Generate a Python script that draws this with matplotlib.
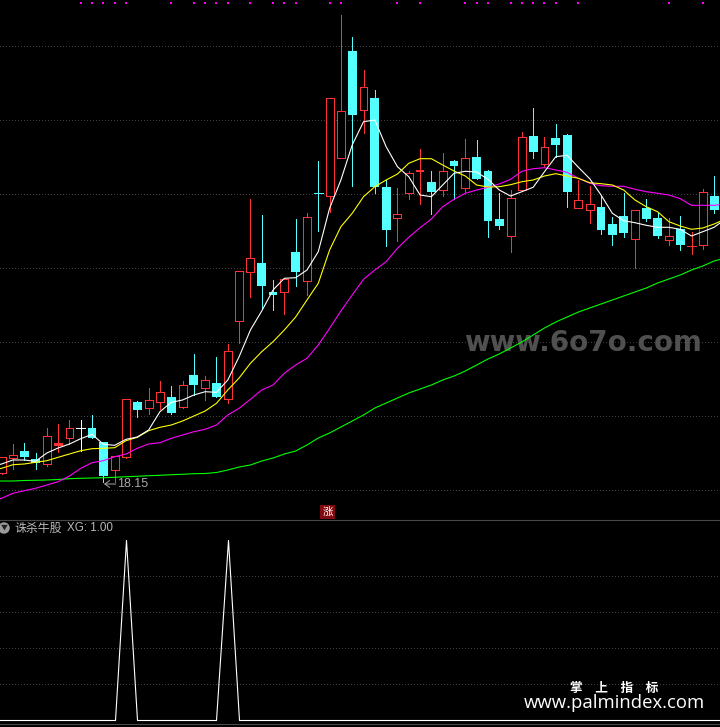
import numpy as np
from matplotlib import pyplot as plt

plt.rcParams['font.family'] = ['Noto Sans CJK SC', 'DejaVu Sans']

RED = '#ff3333'
CYAN = '#54ffff'

opens = [47.3, 62.3, 69, 61, 56.3, 74.3, 82.3, 91.7, 92, 78, 50.3, 62.7, 118, 111.7, 118.3, 123, 113, 145, 132.3, 137,
         121.3, 198.7, 248.3, 257, 228, 228.3, 268, 239.3, 326.7, 324.3, 362.3, 469, 410.3, 422, 333, 302.3, 327.3, 348, 338, 330.3,
         359, 332.3, 363, 349, 301, 284.3, 330.3, 384, 356.3, 382, 385, 312.3, 310.3, 313, 296, 304, 281.3, 312, 302, 280.3,
         291, 274, 275.3, 324]
closes = [62.7, 65.3, 63, 56.7, 83.7, 76.7, 91.7, 91.7, 82.3, 44, 63.7, 120.7, 110, 119.7, 127.7, 107, 134.7, 135, 139.7, 123,
          168.7, 248.7, 261.7, 234, 225, 240.7, 248, 302.7, 326.7, 421.7, 408.7, 405, 432.7, 333, 290, 305.7, 346.7, 350, 328, 348.7,
          354, 361.7, 341, 299, 294, 321.7, 382.7, 368, 372.7, 375, 328, 319.7, 315.7, 290, 285, 287, 309.7, 301, 284, 283.7,
          275, 274, 327.7, 310]
highs = [63, 76, 77, 67, 92, 96, 100, 100, 105.3, 78, 63.7, 120.7, 119.3, 131.7, 139, 134, 139, 165.7, 144, 162.7,
         176, 249, 321, 305, 240, 240.7, 301, 306.7, 359, 422, 505, 483, 450, 430, 340, 332, 348.7, 371, 349, 367,
         360, 380.7, 380, 350, 327, 330, 388, 412, 383, 396, 386, 340, 334, 324, 303, 327, 309.7, 321, 308, 302,
         304, 288, 331, 344]
lows = [46, 51.3, 60, 51.3, 54.3, 68, 76, 69.3, 82, 38.3, 38.3, 61.7, 103.3, 106, 110.7, 106, 112.3, 125, 120, 122.7,
        117.3, 177.3, 223.3, 212.3, 210, 206.3, 234, 225, 289.3, 308.3, 362.3, 334, 387.3, 327.3, 274, 279, 321, 316, 306, 324,
        321, 328, 341, 283, 291, 268, 330.3, 362, 354, 363.3, 313, 312.3, 297, 286, 275, 283, 252, 299, 282, 275,
        270, 266, 271.3, 307]
flat_colors = {7: 'white', 28: CYAN, 61: RED}

# moving averages run one day past each edge of the candles
ma5 = [53, 56, 60, 60, 58.7, 67, 72, 76, 81.3, 85.7, 75.7, 74.7, 80.7, 83, 90, 108.3, 117.7, 120, 125, 128.3, 127.7,
       140, 163.3, 190, 209, 230, 241.7, 242.3, 250, 268.3, 311.7, 340, 375, 398.3, 400, 373.3, 353.3, 343.3, 325, 323.3, 335,
       346.7, 348.7, 348, 340.7, 330, 324, 328.3, 332.7, 348.3, 363.3, 364.7, 352.7, 341.3, 325, 306.7, 299.3, 297.3, 294.7, 292.7, 292.7,
       290.7, 284, 288.3, 292.7, 301]
ma10 = [49, 51.7, 55.3, 56, 57.7, 59.3, 62.7, 66, 69.3, 71.3, 71.7, 72.3, 79.3, 82.7, 89.3, 92.7, 95, 99, 104, 109, 116.7,
        130, 142, 156.7, 168.3, 178.3, 190, 203, 220, 236.7, 270, 293.3, 306.7, 323.3, 333.3, 340, 346, 356.7, 361.3, 361.3, 355,
        349, 344, 335, 333, 333.3, 335.3, 338.3, 340, 344, 346.3, 344, 341.7, 337.3, 336.3, 335, 330, 320, 313.3, 308.3, 298.3,
        294, 290.7, 292, 296, 301]
ma20 = [19, 21.7, 26.7, 29.3, 31.7, 35, 38.3, 44, 51.7, 57.3, 59.3, 63.3, 66, 71.7, 76, 77.3, 81.7, 85, 88.3, 90.7, 95,
        105, 111.7, 120.7, 130, 135, 146.7, 155, 161.7, 175, 191.7, 209, 225, 240.7, 250, 258.3, 271.7, 282.7, 292.3, 301, 313.3,
        320.7, 326.7, 330, 332.7, 336, 340.7, 348.7, 351.3, 352.3, 350, 347.7, 341.7, 336.7, 334.3, 333.7, 333.7, 330.7, 328.3, 326.7, 325,
        321.3, 314.7, 314.7, 314.7, 316]
ma60 = [39, 39, 39, 39.5, 39.7, 40, 40.5, 41.3, 41.7, 42, 42.3, 42.7, 43.3, 43.7, 44.3, 44.7, 45.3, 45.7, 46.3, 46.5, 47.5,
        50, 53, 55, 59, 62, 66, 69, 75, 82, 87, 93, 99, 105, 112, 117, 122, 127, 131, 135, 140,
        144, 149, 155, 161, 166, 172, 178, 185, 192, 198, 203, 208, 212, 216, 220, 224, 228, 232, 237, 241,
        245, 250, 254, 259, 262]

# indicator panel: spikes on the two signal days, marks along the top
spike_days = [11, 20]
signal_days = [7, 8, 9, 10, 11, 15, 17, 18, 19, 20, 22, 24, 25, 26, 29, 30, 35, 37, 41, 42, 43, 45, 46, 47, 48, 49, 51, 59, 62]
main_grid = [30, 104, 178, 252, 326, 400, 474]
xg_grid = [0.2, 0.4, 0.6, 0.8]

fig = plt.figure(figsize=(7.2, 7.27), dpi=100, facecolor='black')
ax = fig.add_axes([0, 207 / 727, 1, 520 / 727], facecolor='black')
ax2 = fig.add_axes([0, 0, 1, 207 / 727], facecolor='black')

days = np.arange(64)
line_days = np.arange(-1, 65)
xlim = (-1.6 / 11.31, (720 - 1.6) / 11.31)
xg = [1 if d in spike_days else 0 for d in line_days]

for y in main_grid:
    ax.axhline(y, color='#404040', lw=0.72, dashes=(1, 2.3), aa=False, zorder=0)

for i in days:
    o, c, h, l = opens[i], closes[i], highs[i], lows[i]
    top, bottom = max(o, c), min(o, c)
    if o == c:
        col = flat_colors[i]
    elif c > o:
        col = RED
    else:
        col = CYAN
    ax.plot([i, i], [l, h], color=col, lw=0.72, aa=False, solid_capstyle='butt', zorder=2)
    if o == c:
        ax.plot([i - 0.4, i + 0.4], [top, top], color=col, lw=0.72, aa=False, solid_capstyle='butt', zorder=3)
    elif col == RED and top - bottom > 2.5:
        ax.bar(i, top - bottom, bottom=bottom, width=0.7, facecolor='black', edgecolor=RED, lw=0.72, zorder=3, aa=False)
    else:
        ax.bar(i, top - bottom, bottom=bottom, width=0.78, color=col, lw=0, zorder=3, aa=False)

ax.plot(line_days, ma60, color='#00ff00', lw=0.8, zorder=4)
ax.plot(line_days, ma20, color='#ff00ff', lw=0.8, zorder=4)
ax.plot(line_days, ma10, color='#ffff00', lw=0.8, zorder=4)
ax.plot(line_days, ma5, color='white', lw=0.8, zorder=4)

ax.scatter(signal_days, [517] * len(signal_days), marker='s', s=3, color='#ff00ff', lw=0, zorder=5)

ax.set_xlim(xlim)
ax.set_ylim(0, 520)
ax.axis('off')

ax.annotate('', xy=(9.05, 36), xytext=(10.1, 36),
            arrowprops=dict(arrowstyle='->,head_length=0.35,head_width=0.25', color='#a8a8a8', lw=0.7, shrinkA=0, shrinkB=0))
ax.text(10.17, 36, '18.15', color='#a8a8a8', fontsize=9, va='center', family='Liberation Sans')

ax.text(28.83, 8, '涨', color='white', fontsize=7.5, ha='center', va='center',
        bbox=dict(boxstyle='square,pad=0.2', fc='#800a10', ec='none'))

ax.text(582.5 / 720, 177 / 520, 'www.6o7o.com', color='#505050', fontsize=20, fontweight='bold', ha='center', va='center',
        family='DejaVu Sans', transform=ax.transAxes, zorder=1)

for y in xg_grid:
    ax2.axhline(y, color='#404040', lw=0.72, dashes=(1, 2.3), aa=False, zorder=0)
ax2.plot(line_days, xg, color='white', lw=0.8, snap=True, zorder=3)
ax2.set_xlim(xlim)
ax2.set_ylim(-7 / 180, 200 / 180)
ax2.axis('off')

# panel borders
fig.add_artist(plt.Line2D([0, 1], [207 / 727, 207 / 727], color='#484848', lw=0.8))
fig.add_artist(plt.Line2D([0, 1], [3 / 727, 3 / 727], color='#484848', lw=0.8))

fig.text(4 / 720, 1 - 528 / 727, '\u25bc', color='#222222', fontsize=5, ha='center', va='center', zorder=6,
         bbox=dict(boxstyle='circle,pad=0.25', fc='#9a9a9a', ec='none'))
fig.text(14 / 720, 1 - 528 / 727, '诛杀牛股', color='#b8b8b8', fontsize=8.6, va='center')
fig.text(67 / 720, 1 - 528 / 727, 'XG: 1.00', color='#b8b8b8', fontsize=8.4, va='center', family='Liberation Sans')

fig.text(614.5 / 720, 1 - 688 / 727, '掌\u3000上\u3000指\u3000标', color='white', fontsize=9.1, fontweight='bold', ha='center', va='center')
fig.text(614.5 / 720, 1 - 703 / 727, 'www.palmindex.com', color='white', fontsize=13.3, ha='center', va='center', family='Open Sans')

fig.savefig('out.png', dpi=100, facecolor='black')
